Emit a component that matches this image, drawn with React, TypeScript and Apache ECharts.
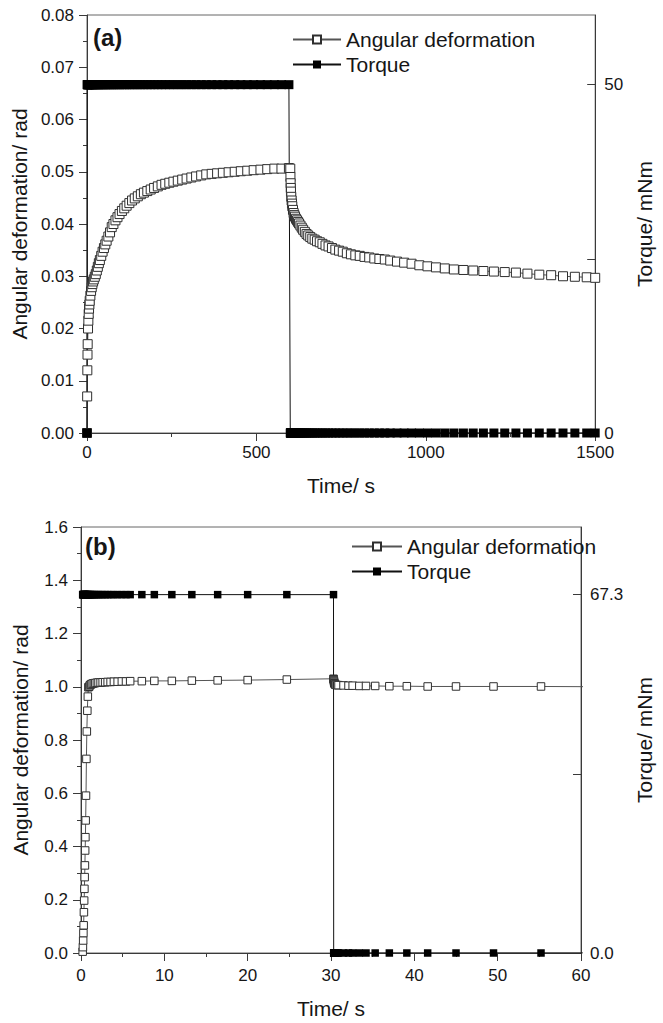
import React, { useEffect, useRef } from 'react';
import * as echarts from 'echarts';

// ---------- Panel (a) ----------
const creepTimeA = [
  0, 0.5, 1, 1.5, 2, 3, 4, 5, 6, 7,
  8, 10, 12, 14, 16, 18, 20, 23, 26, 29,
  32, 35, 38, 42, 46, 50, 54, 58, 63, 68,
  73, 78, 84, 90, 96, 103, 110, 117, 125, 133,
  141, 150, 159, 168, 178, 188, 198, 209, 220, 231,
  243, 255, 268, 281, 294, 308, 322, 337, 352, 368,
  384, 401, 418, 436, 454, 473, 492, 512, 532, 553,
  574, 596,
];
const creepDefA = [
  0, 0.007, 0.012, 0.015, 0.017, 0.02, 0.0215, 0.0228, 0.0238, 0.0246,
  0.0253, 0.0263, 0.0272, 0.0279, 0.0285, 0.029, 0.0294, 0.0299, 0.0304, 0.0311,
  0.0318, 0.0325, 0.0331, 0.0339, 0.0347, 0.0354, 0.0361, 0.0368, 0.0376, 0.0384,
  0.0394, 0.04, 0.0407, 0.0413, 0.0419, 0.0425, 0.043, 0.0435, 0.044, 0.0445,
  0.0449, 0.0453, 0.0457, 0.046, 0.0463, 0.0466, 0.0469, 0.0472, 0.0475, 0.0477,
  0.0479, 0.0481, 0.0483, 0.0485, 0.0487, 0.0489, 0.0491, 0.0493, 0.0495, 0.0496,
  0.0497, 0.0498, 0.0499, 0.05, 0.0501, 0.0502, 0.0503, 0.0504, 0.0505, 0.0506,
  0.0506, 0.0507,
];
const creepTorqueA = [
  0, 50, 50, 50, 50, 50, 50, 50, 50, 50,
  50, 50, 50, 50, 50, 50, 50, 50, 50, 50,
  50, 50, 50, 50, 50, 50, 50, 50, 50, 50,
  50, 50, 50, 50, 50, 50, 50, 50, 50, 50,
  50, 50, 50, 50, 50, 50, 50, 50, 50, 50,
  50, 50, 50, 50, 50, 50, 50, 50, 50, 50,
  50, 50, 50, 50, 50, 50, 50, 50, 50, 50,
  50, 50,
];
const recTimeA = [
  600, 600.5, 601, 601.5, 602, 603, 604, 605, 606, 608,
  610, 612, 614, 617, 620, 623, 626, 630, 634, 638,
  643, 648, 653, 659, 665, 672, 679, 687, 695, 704,
  713, 723, 733, 744, 755, 767, 779, 792, 805, 819,
  833, 848, 863, 879, 895, 915, 936, 958, 981, 1005,
  1030, 1056, 1083, 1111, 1140, 1170, 1201, 1233, 1266, 1300,
  1335, 1370, 1405, 1440, 1475, 1500,
];
const recDefA = [
  0.0506, 0.049, 0.0478, 0.0469, 0.0462, 0.0452, 0.0445, 0.0439, 0.0434, 0.0427,
  0.0421, 0.0417, 0.0414, 0.041, 0.0407, 0.0404, 0.0401, 0.0397, 0.0393, 0.0389,
  0.0385, 0.0381, 0.0378, 0.0375, 0.0372, 0.037, 0.0367, 0.0365, 0.0362, 0.0359,
  0.0357, 0.0354, 0.0351, 0.0349, 0.0347, 0.0344, 0.0342, 0.034, 0.0339, 0.0337,
  0.0336, 0.0334, 0.0333, 0.0332, 0.033, 0.0328, 0.0326, 0.0324, 0.0321, 0.0319,
  0.0317, 0.0315, 0.0313, 0.0312, 0.0311, 0.031, 0.0309, 0.0308, 0.0307, 0.0305,
  0.0303, 0.0302, 0.03, 0.0299, 0.0298, 0.0297,
];
const recTorqueA = [
  0, 0, 0, 0, 0, 0, 0, 0, 0, 0,
  0, 0, 0, 0, 0, 0, 0, 0, 0, 0,
  0, 0, 0, 0, 0, 0, 0, 0, 0, 0,
  0, 0, 0, 0, 0, 0, 0, 0, 0, 0,
  0, 0, 0, 0, 0, 0, 0, 0, 0, 0,
  0, 0, 0, 0, 0, 0, 0, 0, 0, 0,
  0, 0, 0, 0, 0, 0,
];

// ---------- Panel (b) ----------
const creepTimeB = [
  0.2, 0.23, 0.26, 0.29, 0.32, 0.35, 0.38, 0.41, 0.44, 0.47,
  0.5, 0.53, 0.56, 0.6, 0.65, 0.7, 0.76, 0.82, 0.89, 0.97,
  1.05, 1.15, 1.25, 1.4, 1.55, 1.7, 1.9, 2.1, 2.35, 2.6,
  2.9, 3.2, 3.55, 3.95, 4.4, 4.9, 5.4, 5.9, 7.3, 8.8,
  10.9, 13.3, 16.4, 20.0, 24.7, 30.3,
];
const creepDefB = [
  0.005, 0.022, 0.047, 0.075, 0.104, 0.153, 0.197, 0.241, 0.285, 0.329,
  0.385, 0.435, 0.498, 0.591, 0.729, 0.832, 0.91, 0.963, 0.998, 1.0,
  1.005, 1.008, 1.01, 1.012, 1.013, 1.014, 1.015, 1.016, 1.016, 1.017,
  1.017, 1.018, 1.018, 1.019, 1.019, 1.02, 1.02, 1.021, 1.021, 1.022,
  1.022, 1.023, 1.024, 1.025, 1.027, 1.03,
];
const creepTorqueB = [
  67.3, 67.3, 67.3, 67.3, 67.3, 67.3, 67.3, 67.3, 67.3, 67.3,
  67.3, 67.3, 67.3, 67.3, 67.3, 67.3, 67.3, 67.3, 67.3, 67.3,
  67.3, 67.3, 67.3, 67.3, 67.3, 67.3, 67.3, 67.3, 67.3, 67.3,
  67.3, 67.3, 67.3, 67.3, 67.3, 67.3, 67.3, 67.3, 67.3, 67.3,
  67.3, 67.3, 67.3, 67.3, 67.3, 67.3,
];
const recTimeB = [
  30.32, 30.34, 30.36, 30.38, 30.4, 30.45, 30.5, 30.6, 30.75, 30.9,
  31.5, 32.1, 32.6, 33.4, 34.2, 35.3, 37.0, 39.1, 41.6, 45.0,
  49.5, 55.2, 62.0,
];
const recDefB = [
  1.028, 1.024, 1.02, 1.016, 1.013, 1.01, 1.008, 1.007, 1.006, 1.006,
  1.005, 1.004, 1.004, 1.003, 1.003, 1.003, 1.002, 1.002, 1.001, 1.001,
  1.001, 1.001, 1.0,
];
const recTorqueB = [
  0, 0, 0, 0, 0, 0, 0, 0, 0, 0,
  0, 0, 0, 0, 0, 0, 0, 0, 0, 0,
  0, 0, 0,
];

// tick labels
const rightTicksA = [0, 25, 50];
const rightLabelsA = [0, 50];
const rightTicksB = [0, 33.65, 67.3];
const rightLabelsB = [0, 67.3];

const zip = (xs: number[], ys: number[]) => xs.map((x, i) => [x, ys[i]]);

const FONT = '"Liberation Sans", Arial, sans-serif';
const TXT = '#161616';
const AX = '#3a3a3a';

export default function App() {
  const ref = useRef<HTMLDivElement>(null);
  useEffect(() => {
    const chart = echarts.init(ref.current!, undefined, { renderer: 'svg' });

    const baseX = (grid: number, max: number, interval: number, nameGap: number, labelMargin: number) => ({
      type: 'value',
      gridIndex: grid,
      min: 0,
      max,
      interval,
      name: 'Time/ s',
      nameLocation: 'middle',
      nameGap,
      nameTextStyle: { fontSize: 21, color: TXT, fontFamily: FONT },
      axisLine: { show: true, onZero: false, lineStyle: { color: AX, width: 1 } },
      axisTick: { show: true, inside: false, length: 8, lineStyle: { color: AX } },
      minorTick: { show: true, splitNumber: 2, length: 4, lineStyle: { color: AX } },
      splitLine: { show: false },
      minorSplitLine: { show: false },
      axisLabel: {
        fontSize: 17, color: TXT, fontFamily: FONT, margin: labelMargin,
        formatter: (v: number) => String(Math.round(v)),
      },
    });

    const baseYLeft = (grid: number, max: number, interval: number, digits: number, nameGap: number) => ({
      type: 'value',
      gridIndex: grid,
      position: 'left',
      min: 0,
      max,
      interval,
      name: 'Angular deformation/ rad',
      nameLocation: 'middle',
      nameRotate: 90,
      nameGap,
      nameTextStyle: { fontSize: 21, color: TXT, fontFamily: FONT },
      axisLine: { show: true, onZero: false, lineStyle: { color: AX, width: 1 } },
      axisTick: { show: true, inside: false, length: 8, lineStyle: { color: AX } },
      minorTick: { show: true, splitNumber: 2, length: 4, lineStyle: { color: AX } },
      splitLine: { show: false },
      minorSplitLine: { show: false },
      axisLabel: {
        fontSize: 17, color: TXT, fontFamily: FONT, margin: 13,
        formatter: (v: number) => v.toFixed(digits),
      },
    });

    const baseYRight = (grid: number, max: number, ticks: number[], labels: number[], digits: number, nameGap: number) => ({
      type: 'value',
      gridIndex: grid,
      position: 'right',
      min: 0,
      max,
      name: 'Torque/ mNm',
      nameLocation: 'middle',
      nameRotate: 90,
      nameGap,
      nameTextStyle: { fontSize: 21, color: TXT, fontFamily: FONT },
      axisLine: { show: true, onZero: false, lineStyle: { color: AX, width: 1 } },
      axisTick: { show: true, inside: true, length: 8, lineStyle: { color: AX }, customValues: ticks },
      splitLine: { show: false },
      axisLabel: {
        fontSize: 17, color: TXT, fontFamily: FONT, margin: 9,
        customValues: labels,
        formatter: (v: number) => v.toFixed(digits),
      },
    });

    const defStyle = (size: number) => ({
      type: 'line',
      name: 'Angular deformation',
      symbol: 'rect',
      symbolSize: size,
      showSymbol: true,
      clip: true,
      lineStyle: { color: '#555', width: 1 },
      itemStyle: { color: '#ffffff', borderColor: '#2e2e2e', borderWidth: 1 },
      emphasis: { disabled: true },
    });
    const torqueStyle = (size: number) => ({
      type: 'line',
      name: 'Torque',
      symbol: 'rect',
      symbolSize: size,
      showSymbol: true,
      clip: true,
      lineStyle: { color: '#111', width: 1 },
      itemStyle: { color: '#000000', borderColor: '#000000', borderWidth: 0 },
      emphasis: { disabled: true },
    });

    const legendBase = (left: number, top: number, itemWidth: number) => ({
      orient: 'vertical',
      left,
      top,
      itemWidth,
      itemHeight: 10,
      itemGap: 4,
      data: ['Angular deformation', 'Torque'],
      selectedMode: false,
      textStyle: { fontSize: 21, color: TXT, fontFamily: FONT, lineHeight: 21 },
    });

    const option: any = {
      animation: false,
      backgroundColor: '#ffffff',
      grid: [
        { left: 87, right: 57, top: 15, height: 418, show: true, borderColor: '#666', borderWidth: 1, backgroundColor: 'transparent' },
        { left: 81, right: 54, top: 527, height: 426, show: true, borderColor: '#666', borderWidth: 1, backgroundColor: 'transparent' },
      ],
      legend: [
        legendBase(287, 24, 48),
        legendBase(346, 531, 50),
      ],
      xAxis: [
        baseX(0, 1500, 500, 42, 11),
        baseX(1, 60, 10, 45, 14),
      ],
      yAxis: [
        baseYLeft(0, 0.08, 0.01, 2, 56),
        baseYRight(0, 60, rightTicksA, rightLabelsA, 0, 36),
        baseYLeft(1, 1.6, 0.2, 1, 50),
        baseYRight(1, 80, rightTicksB, rightLabelsB, 1, 33),
      ],
      graphic: [
        { type: 'text', left: 93, top: 25, style: { text: '(a)', fontSize: 24, fontWeight: 'bold', fontFamily: FONT, fill: TXT } },
        { type: 'text', left: 85, top: 534, style: { text: '(b)', fontSize: 24, fontWeight: 'bold', fontFamily: FONT, fill: TXT } },
      ],
      series: [
        { ...defStyle(9), xAxisIndex: 0, yAxisIndex: 0, data: zip(creepTimeA, creepDefA).concat(zip(recTimeA, recDefA)) },
        { ...torqueStyle(9), xAxisIndex: 0, yAxisIndex: 1, data: zip(creepTimeA, creepTorqueA).concat(zip(recTimeA, recTorqueA)) },
        { ...defStyle(7.5), xAxisIndex: 1, yAxisIndex: 2, data: zip(creepTimeB, creepDefB).concat(zip(recTimeB, recDefB)) },
        { ...torqueStyle(7.5), xAxisIndex: 1, yAxisIndex: 3, data: zip(creepTimeB, creepTorqueB).concat(zip(recTimeB, recTorqueB)) },
      ],
    };

    chart.setOption(option);
    return () => chart.dispose();
  }, []);

  return (
    <div
      ref={ref}
      style={{ position: 'fixed', left: 0, top: 0, width: 663, height: 1023, background: '#fff' }}
    />
  );
}
